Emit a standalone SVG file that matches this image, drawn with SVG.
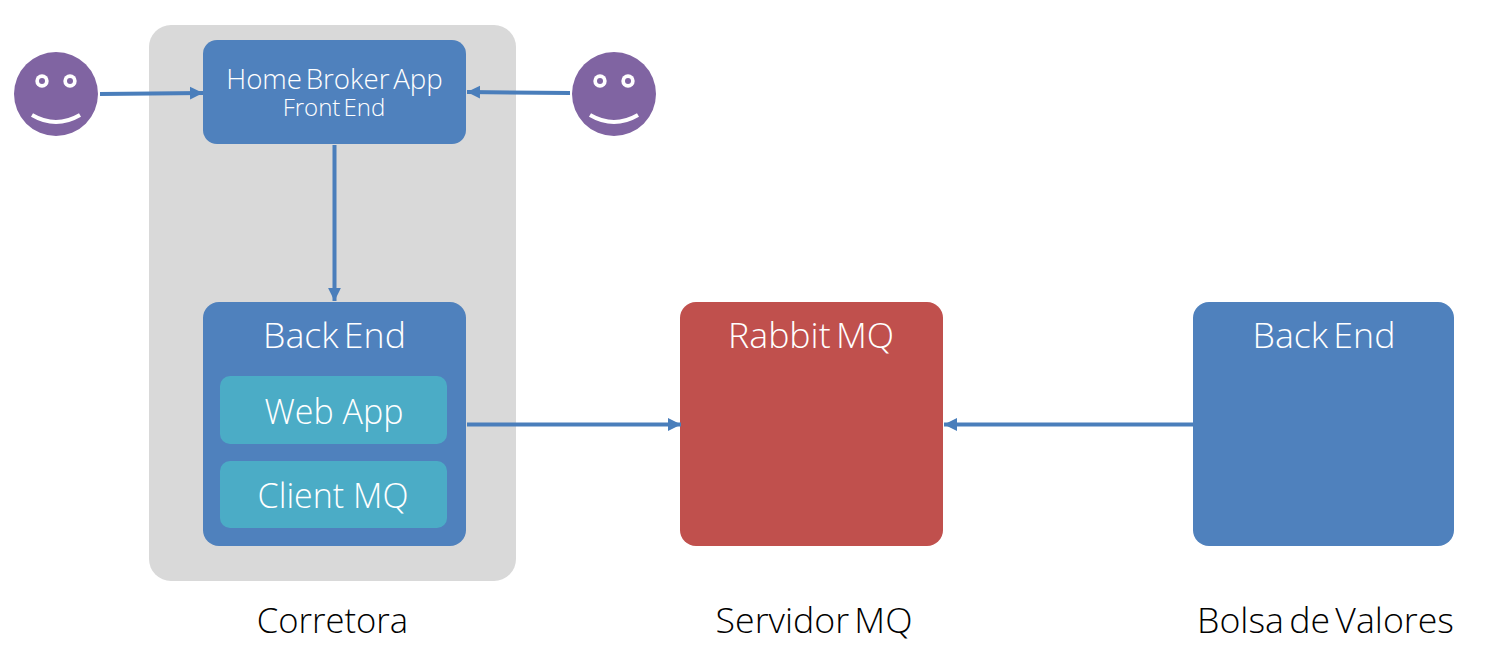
<svg xmlns="http://www.w3.org/2000/svg" width="1503" height="666" viewBox="0 0 1503 666">
<style>
text{font-family:"Open Sans","Noto Sans","Liberation Sans",sans-serif;font-weight:300;text-anchor:middle}
.w{fill:#fff}.k{fill:#000}
.t{font-size:35.700px;word-spacing:-4px}
.i{font-size:34px}
.blue{fill:#4f81bd}.teal{fill:#4bacc6}.red{fill:#c0504d}.face{fill:#8064a2}
.eye{fill:#fff}.pupil{fill:#8064a2}.smile{fill:none;stroke:#fff;stroke-width:4}
.c{fill:none;stroke:#4a7ebb;stroke-width:4}
</style>
<defs>
<marker id="a" markerUnits="userSpaceOnUse" markerWidth="14" markerHeight="14" refX="13" refY="7" orient="auto"><path d="M0 0.6L13 7L0 13.4Z" fill="#4a7ebb"/></marker>
<g id="smiley"><circle r="42" class="face"/><circle cx="-14" cy="-13" r="6.700" class="eye"/><circle cx="14" cy="-13" r="6.700" class="eye"/><circle cx="-14" cy="-13" r="3" class="pupil"/><circle cx="14" cy="-13" r="3" class="pupil"/><path class="smile" d="M-24 21Q0 35 24 21"/></g>
</defs>
<g id="corretora"><rect x="149" y="25" width="367" height="556" rx="22" fill="#d9d9d9"/><text x="332.500" y="632.500" font-size="34.600" class="k">Corretora</text></g>
<g id="home-broker"><rect x="203" y="40" width="263" height="104" rx="14" class="blue"/><text x="334.500" y="89" font-size="27.700" word-spacing="-3.500" class="w">Home Broker App</text><text x="334" y="116" font-size="24" word-spacing="-3" class="w">Front End</text></g>
<g id="user-left"><use href="#smiley" x="56" y="94"/></g>
<g id="user-right"><use href="#smiley" x="614" y="94"/></g>
<g id="backend-left"><rect x="203" y="302" width="263" height="244" rx="16" class="blue"/><text x="334.500" y="347.500" class="t w">Back End</text></g>
<g id="web-app"><rect x="220" y="376" width="227" height="68" rx="10" class="teal"/><text x="334" y="423.500" class="i w">Web App</text></g>
<g id="client-mq"><rect x="220" y="461" width="227" height="67" rx="10" class="teal"/><text x="333" y="507.500" class="i w">Client MQ</text></g>
<g id="rabbit"><rect x="680" y="302" width="263" height="244" rx="16" class="red"/><text x="811" y="347.500" class="t w">Rabbit MQ</text></g>
<g id="servidor"><text x="814" y="632.500" class="t k">Servidor MQ</text></g>
<g id="backend-right"><rect x="1193" y="302" width="261" height="244" rx="16" class="blue"/><text x="1324" y="347.500" class="t w">Back End</text></g>
<g id="bolsa"><text x="1325.500" y="632.500" class="t k">Bolsa de Valores</text></g>
<g id="connectors">
<path class="c" marker-end="url(#a)" d="M100 94L203 93"/>
<path class="c" marker-end="url(#a)" d="M570 93L467 92"/>
<path class="c" marker-end="url(#a)" d="M334.500 145V301"/>
<path class="c" marker-end="url(#a)" d="M467 424.500H681"/>
<path class="c" marker-end="url(#a)" d="M1193 424.500H944"/>
</g>
</svg>
